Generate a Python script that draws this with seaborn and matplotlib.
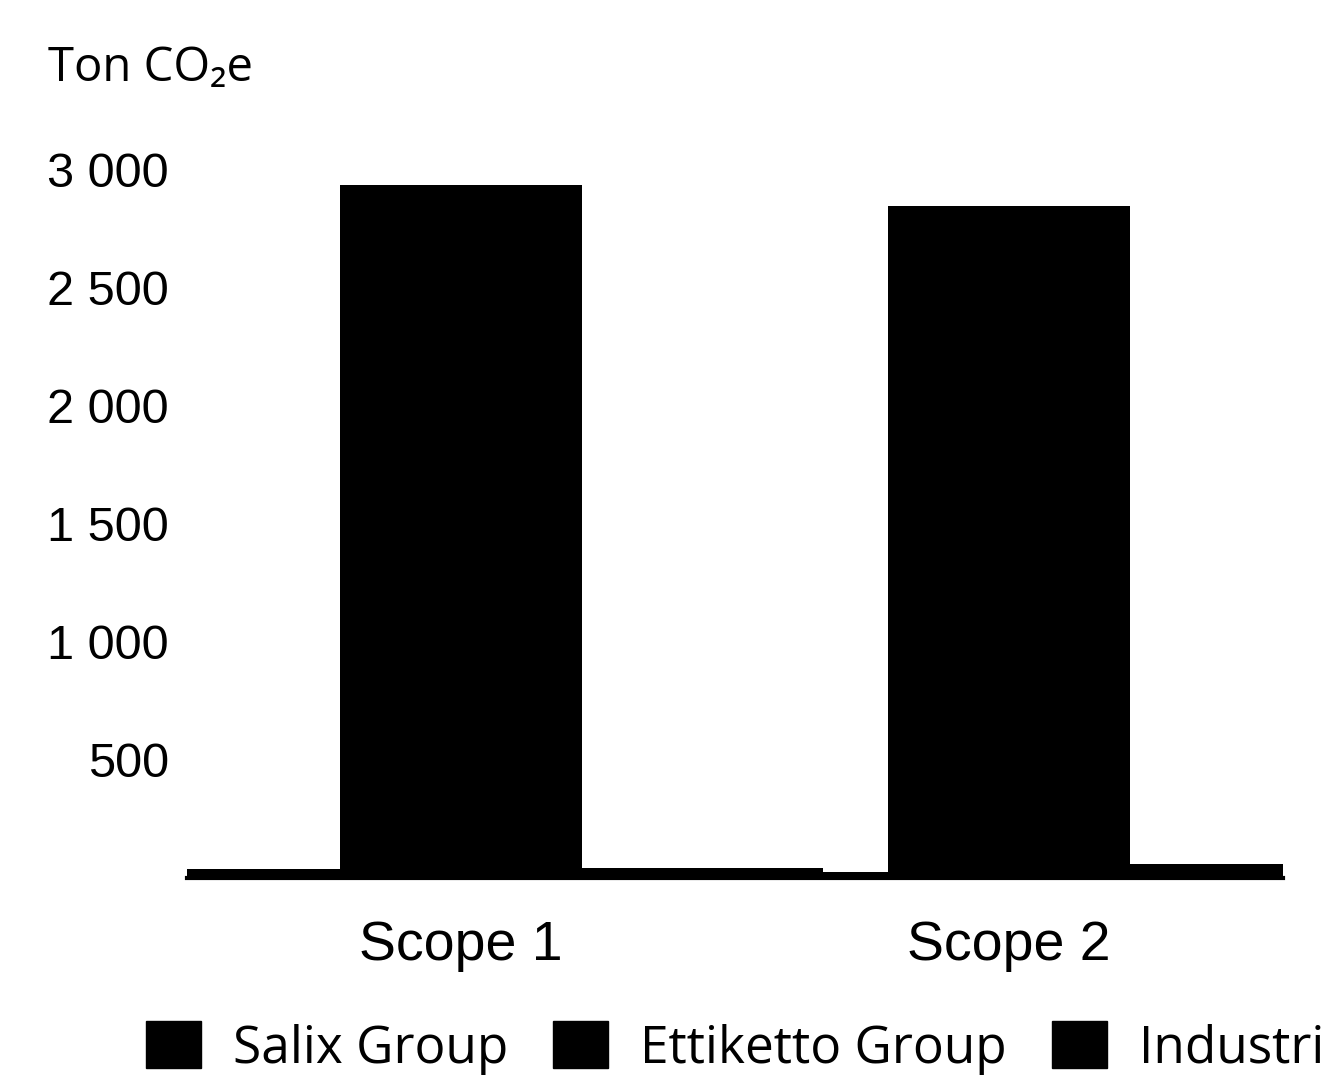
import pandas as pd
import seaborn as sns
from matplotlib import pyplot as plt

sns.set_theme(style="white")
plt.rcParams['font.family'] = ['Liberation Sans', 'DejaVu Sans']
plt.rcParams['text.color'] = 'black'
plt.rcParams['xtick.color'] = 'black'
plt.rcParams['ytick.color'] = 'black'

# Data (ton CO2e)
scopes = ['Scope 1', 'Scope 2']
companies = ['Salix Group', 'Ettiketto Group', 'Industri']
salix = [38, 25]
ettiketto = [2935, 2845]
industri = [42, 58]

yticks = [500, 1000, 1500, 2000, 2500, 3000]
ytick_labels = ['500', '1 000', '1 500', '2 000', '2 500', '3 000']

rows = []
for name, vals in zip(companies, [salix, ettiketto, industri]):
    for s, v in zip(scopes, vals):
        rows.append({'scope': s, 'company': name, 'value': v})
df = pd.DataFrame(rows)

fig = plt.figure(figsize=(13.37, 10.85), dpi=100)
ax = fig.add_axes([0.1399, 0.1908, 0.8197, 0.6747])

sns.barplot(data=df, x='scope', y='value', hue='company', hue_order=companies,
            palette=['black'] * 3, width=1.32, dodge=True, errorbar=None,
            saturation=1, linewidth=0, ax=ax, legend=False)

ax.set_xlim(-0.5, 1.5)
ax.set_ylim(0, 3100)
ax.set_yticks(yticks)
ax.set_yticklabels(ytick_labels, fontsize=35)
ax.tick_params(axis='y', length=0, pad=13)
ax.tick_params(axis='x', length=0, pad=30, labelsize=40)
ax.set_xlabel('')
ax.set_ylabel('')
for side in ['top', 'right', 'left']:
    ax.spines[side].set_visible(False)
ax.spines['bottom'].set_color('black')
ax.spines['bottom'].set_linewidth(3)

fig.text(48 / 1337, 1 - 68 / 1085, 'Ton CO\u2082e', fontsize=34,
         family=['Open Sans', 'DejaVu Sans'], va='center', ha='left')

# legend along the bottom, square black keys
handles = [plt.Rectangle((0, 0), 1, 1, color='black') for _ in companies]
fig.legend(handles, companies, loc='center left',
           bbox_to_anchor=(146 / 1337, 1 - 1048 / 1085),
           ncol=3, frameon=False, borderpad=0, borderaxespad=0,
           handlelength=1.07, handleheight=1.03,
           handletextpad=0.62, columnspacing=0.88,
           prop={'family': 'Open Sans', 'size': 37})

fig.savefig('out.png', dpi=100)
